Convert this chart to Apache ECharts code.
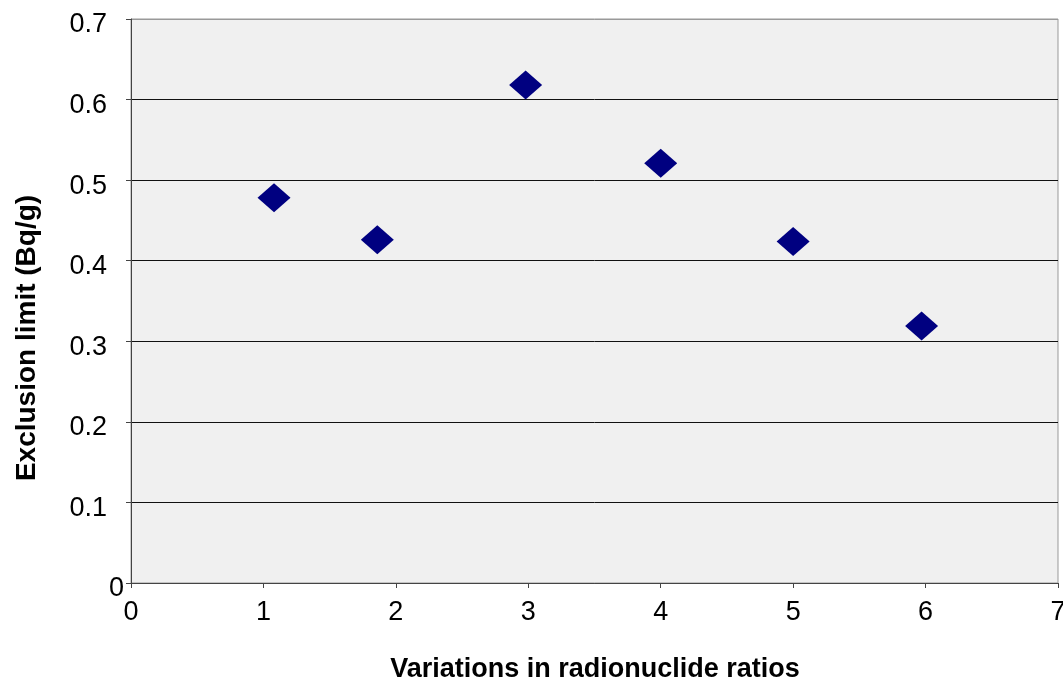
<!DOCTYPE html>
<html>
<head>
<meta charset="utf-8">
<script src="https://cdn.jsdelivr.net/npm/echarts@6/dist/echarts.min.js"></script>
<style>html,body{margin:0;padding:0;background:#fff;}#c{width:1063px;height:682px;}</style>
</head>
<body>
<div id="c"></div>
<script>
const xValues = [1.08, 1.86, 2.98, 4.00, 5.00, 5.97];
const yValues = [0.478, 0.426, 0.618, 0.521, 0.424, 0.319];
const xTitle = 'Variations in radionuclide ratios';
const yTitle = 'Exclusion limit (Bq/g)';

const chart = echarts.init(document.getElementById('c'), null, {renderer: 'canvas'});
const font = 'Liberation Sans, Arial, Helvetica, sans-serif';
chart.setOption({
  animation: false,
  backgroundColor: '#ffffff',
  grid: {left: 131, top: 19, right: 5, bottom: 99, show: true, containLabel: false,
         outerBoundsMode: 'none',
         backgroundColor: '#f0f0f0', borderColor: '#999999', borderWidth: 1},
  xAxis: {
    type: 'value', min: 0, max: 7, interval: 1,
    axisLine: {show: true, onZero: false, lineStyle: {color: '#444', width: 1}},
    axisTick: {show: true, inside: false, length: 5, lineStyle: {color: '#444'}},
    axisLabel: {margin: 16, fontSize: 27, color: '#000', fontFamily: font},
    splitLine: {show: false}
  },
  yAxis: {
    type: 'value', min: 0, max: 0.7, interval: 0.1,
    axisLine: {show: true, onZero: false, lineStyle: {color: '#444', width: 1}},
    axisTick: {show: true, inside: false, length: 5, lineStyle: {color: '#444'}},
    axisLabel: {margin: 7, fontSize: 27, color: '#000', fontFamily: font,
                formatter: v => {
                  const s = (Math.round(v * 10) / 10).toString();
                  return v === 0 ? '{z|' + s + '}' : '{a|' + s + '}';
                },
                rich: {
                  a: {fontSize: 27, fontFamily: font, color: '#000', padding: [12, 17, 0, 0]},
                  z: {fontSize: 27, fontFamily: font, color: '#000', padding: [12, 0, 0, 0]}
                }},
    splitLine: {show: true, lineStyle: {color: ['#444', '#111', '#111', '#111', '#111', '#111', '#111', '#999'], width: 1}}
  },
  graphic: [
    {type: 'text', x: 595, y: 670,
     style: {text: xTitle, font: 'bold 27px ' + font, fill: '#000', textAlign: 'center', textVerticalAlign: 'middle'}},
    {type: 'text', x: 27, y: 338, rotation: Math.PI / 2,
     style: {text: yTitle, font: 'bold 28px ' + font, fill: '#000', textAlign: 'center', textVerticalAlign: 'middle'}}
  ],
  series: [{
    type: 'scatter',
    data: xValues.map((x, i) => [x, yValues[i]]),
    symbol: 'diamond',
    symbolSize: [33, 29],
    itemStyle: {color: '#000080', opacity: 1}
  }]
});
</script>
</body>
</html>
